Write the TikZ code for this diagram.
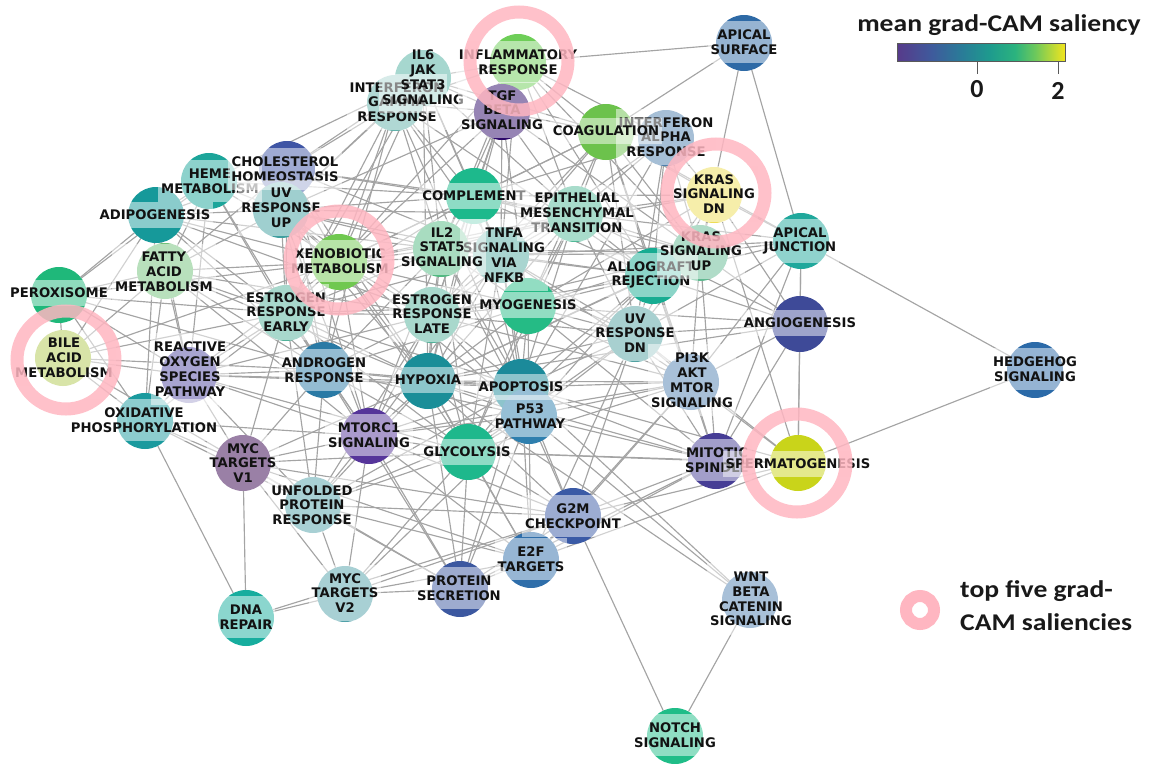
\documentclass[tikz,border=0pt]{standalone}
\usepackage{fontspec}
\usepackage{graphicx}
\newfontfamily\labfont{DejaVu Sans}
\newfontfamily\legfont{Carlito}
\pgfdeclarelayer{edges}
\pgfsetlayers{edges,main}
\definecolor{edgegray}{HTML}{A4A4A4}
\definecolor{ringpink}{HTML}{FFB6C1}
\definecolor{c-inf}{HTML}{6ECE58}
\definecolor{c-apsurf}{HTML}{2E6AA6}
\definecolor{c-il6}{HTML}{4DB0A0}
\definecolor{c-ifng}{HTML}{61B1AA}
\definecolor{c-tgf}{HTML}{2D0A6A}
\definecolor{c-coag}{HTML}{6CC24C}
\definecolor{c-ifna}{HTML}{4D7FAD}
\definecolor{c-krasdn}{HTML}{EEDD55}
\definecolor{c-chol}{HTML}{3F55A5}
\definecolor{c-heme}{HTML}{1CA59A}
\definecolor{c-uvup}{HTML}{3F9F9F}
\definecolor{c-adipo}{HTML}{16999A}
\definecolor{c-compl}{HTML}{1DB98C}
\definecolor{c-emt}{HTML}{51B997}
\definecolor{c-apjunc}{HTML}{20A89C}
\definecolor{c-xeno}{HTML}{70C850}
\definecolor{c-il2}{HTML}{51B981}
\definecolor{c-tnfa}{HTML}{53ABA1}
\definecolor{c-krasup}{HTML}{61B991}
\definecolor{c-allo}{HTML}{17AC92}
\definecolor{c-fatty}{HTML}{71C179}
\definecolor{c-perox}{HTML}{1FB87A}
\definecolor{c-estre}{HTML}{51B199}
\definecolor{c-estrl}{HTML}{51B199}
\definecolor{c-myo}{HTML}{25BB85}
\definecolor{c-uvdn}{HTML}{51A1A1}
\definecolor{c-angio}{HTML}{3E4A98}
\definecolor{c-bile}{HTML}{B1C951}
\definecolor{c-ros}{HTML}{5149A1}
\definecolor{c-andr}{HTML}{2A7AA5}
\definecolor{c-hyp}{HTML}{1A8E98}
\definecolor{c-apop}{HTML}{1B8A9A}
\definecolor{c-p53}{HTML}{2E7FAE}
\definecolor{c-pi3k}{HTML}{5181B1}
\definecolor{c-hedge}{HTML}{2B6AA8}
\definecolor{c-oxphos}{HTML}{1A9A9E}
\definecolor{c-mtorc1}{HTML}{56359A}
\definecolor{c-mycv1}{HTML}{35014D}
\definecolor{c-glyc}{HTML}{1EB88C}
\definecolor{c-mitotic}{HTML}{463D95}
\definecolor{c-sperm}{HTML}{C9D41A}
\definecolor{c-upr}{HTML}{51A1A9}
\definecolor{c-g2m}{HTML}{3A5AA6}
\definecolor{c-e2f}{HTML}{2F6EAA}
\definecolor{c-protsec}{HTML}{3C58A0}
\definecolor{c-mycv2}{HTML}{51A1A9}
\definecolor{c-dna}{HTML}{17AD9E}
\definecolor{c-wnt}{HTML}{5181B1}
\definecolor{c-notch}{HTML}{20BD88}
\definecolor{vA}{HTML}{573A8A}
\definecolor{vB}{HTML}{3F5A9C}
\definecolor{vC}{HTML}{2A7B98}
\definecolor{vD}{HTML}{1E9A8E}
\definecolor{vE}{HTML}{2BB37E}
\definecolor{vF}{HTML}{6CC85C}
\definecolor{vG}{HTML}{F2E51E}
\tikzset{
  hall/.style={circle, minimum size=56pt, inner sep=0pt, outer sep=0pt, draw=none},
  lab/.style={fill=white, fill opacity=0.5, text opacity=1, text=black!93, align=center,
    inner xsep=3pt, inner ysep=8.5pt, font=\labfont\bfseries\fontsize{13.2}{14.8}\selectfont},
  edgeline/.style={draw=edgegray, line width=1.15pt},
  topring/.style={circle, draw=ringpink, draw opacity=0.85, line width=13pt, minimum size=98pt, inner sep=0pt},
  legtxt/.style={font=\legfont\bfseries\fontsize{24}{28}\selectfont, text=black!90, inner sep=0pt},
}
\begin{document}
\begin{tikzpicture}[x=1pt,y=-1pt]
\useasboundingbox (0,0) rectangle (1151,763);
% circles
\foreach \k/\x/\y in {inf/518/62, apsurf/744/43, il6/423/78, ifng/395/103, tgf/502/112,
  coag/606/132, ifna/666/138, krasdn/714/195, chol/287/169, heme/209/181, uvup/281/210,
  adipo/156/215, compl/474/196, emt/575/214, apjunc/801/241, xeno/339/262, il2/441/249,
  tnfa/501/255, krasup/700/253, allo/653/276, fatty/165/271, perox/59/295, estre/286/313,
  estrl/432/315, myo/528/306, uvdn/635/334, angio/800/324, bile/63/358, ros/189/375,
  andr/324/370, hyp/428/381, apop/521/387, p53/529/416, pi3k/691/382, hedge/1035/370,
  oxphos/145/421, mtorc1/369/436, mycv1/243/463, glyc/468/452, mitotic/716/461,
  sperm/798/463, upr/313/505, g2m/573/516, e2f/531/560, protsec/460/589, mycv2/345/594,
  dna/246/618, wnt/750/600, notch/675/736}
  \node[hall, fill=c-\k] (\k) at (\x,\y) {};
% edges
\begin{pgfonlayer}{edges}
\foreach \a/\b in {inf/apsurf, inf/il6, inf/ifng, inf/tgf, inf/coag, inf/compl, inf/tnfa, inf/il2, inf/allo, inf/krasup, inf/ifna, inf/emt, inf/xeno,
  apsurf/coag, apsurf/krasup, apsurf/apjunc,
  il6/ifng, il6/tgf, il6/compl, il6/tnfa, il6/il2, il6/xeno, il6/chol, il6/uvup, il6/estre, il6/hyp, il6/emt, il6/coag, il6/heme,
  ifng/tgf, ifng/compl, ifng/tnfa, ifng/il2, ifng/allo, ifng/xeno, ifng/chol, ifng/uvup, ifng/estre, ifng/andr, ifng/apop,
  tgf/coag, tgf/emt, tgf/compl, tgf/tnfa, tgf/hyp, tgf/uvup, tgf/xeno, tgf/estrl, tgf/myo, tgf/krasup, tgf/il2,
  coag/ifna, coag/emt, coag/compl, coag/krasup, coag/krasdn, coag/allo, coag/tnfa, coag/myo, coag/uvdn, coag/apjunc, coag/xeno, coag/estrl, coag/pi3k,
  ifna/krasdn, ifna/allo, ifna/krasup, ifna/emt, ifna/tnfa, ifna/apop, ifna/uvdn, ifna/compl,
  krasdn/krasup, krasdn/apjunc, krasdn/emt, krasdn/myo, krasdn/allo, krasdn/uvdn, krasdn/angio, krasdn/sperm, krasdn/xeno, krasdn/compl,
  chol/heme, chol/uvup, chol/adipo, chol/xeno, chol/fatty, chol/compl, chol/estre, chol/tnfa, chol/andr, chol/mtorc1, chol/emt, chol/hyp,
  heme/uvup, heme/adipo, heme/fatty, heme/xeno, heme/compl, heme/perox, heme/estre, heme/andr, heme/ros,
  uvup/adipo, uvup/xeno, uvup/compl, uvup/emt, uvup/fatty, uvup/estre, uvup/tnfa, uvup/il2, uvup/andr, uvup/hyp, uvup/mtorc1, uvup/estrl, uvup/p53,
  adipo/fatty, adipo/perox, adipo/xeno, adipo/bile, adipo/estre, adipo/ros, adipo/oxphos, adipo/andr, adipo/il2, adipo/estrl,
  compl/emt, compl/xeno, compl/il2, compl/tnfa, compl/allo, compl/krasup, compl/myo, compl/estrl, compl/hyp, compl/apop, compl/estre,
  emt/tnfa, emt/il2, emt/allo, emt/krasup, emt/myo, emt/apjunc, emt/uvdn, emt/estrl, emt/hyp, emt/apop, emt/glyc, emt/xeno, emt/angio,
  apjunc/krasup, apjunc/allo, apjunc/angio, apjunc/hedge, apjunc/sperm, apjunc/pi3k, apjunc/uvdn, apjunc/mitotic, apjunc/tnfa,
  xeno/fatty, xeno/perox, xeno/bile, xeno/estre, xeno/estrl, xeno/il2, xeno/tnfa, xeno/andr, xeno/hyp, xeno/ros, xeno/myo, xeno/mtorc1, xeno/glyc,
  il2/tnfa, il2/estrl, il2/myo, il2/allo, il2/krasup, il2/hyp, il2/apop, il2/estre, il2/andr, il2/uvdn, il2/p53, il2/glyc, il2/mtorc1,
  tnfa/estrl, tnfa/myo, tnfa/allo, tnfa/krasup, tnfa/hyp, tnfa/apop, tnfa/p53, tnfa/uvdn, tnfa/estre, tnfa/glyc, tnfa/pi3k, tnfa/mtorc1,
  krasup/allo, krasup/myo, krasup/uvdn, krasup/angio, krasup/estrl, krasup/hyp, krasup/pi3k, krasup/mitotic,
  allo/myo, allo/uvdn, allo/angio, allo/pi3k, allo/estrl, allo/hyp, allo/apop, allo/p53, allo/glyc, allo/mitotic,
  fatty/perox, fatty/bile, fatty/estre, fatty/ros, fatty/oxphos, fatty/andr, fatty/estrl, fatty/hyp, fatty/mtorc1,
  perox/bile, perox/estre, perox/ros, perox/oxphos, perox/andr,
  estre/estrl, estre/andr, estre/ros, estre/hyp, estre/myo, estre/apop, estre/mtorc1, estre/glyc, estre/bile, estre/oxphos, estre/mycv1, estre/upr,
  estrl/myo, estrl/andr, estrl/hyp, estrl/apop, estrl/p53, estrl/glyc, estrl/mtorc1, estrl/uvdn, estrl/ros, estrl/pi3k, estrl/upr,
  myo/uvdn, myo/hyp, myo/apop, myo/p53, myo/glyc, myo/pi3k, myo/angio, myo/andr, myo/mitotic,
  uvdn/pi3k, uvdn/angio, uvdn/apop, uvdn/p53, uvdn/hyp, uvdn/glyc, uvdn/mitotic, uvdn/sperm, uvdn/g2m, uvdn/e2f,
  angio/pi3k, angio/mitotic, angio/sperm, angio/hyp,
  bile/ros, bile/oxphos, bile/andr, bile/mycv1,
  ros/oxphos, ros/andr, ros/hyp, ros/mtorc1, ros/mycv1, ros/upr, ros/apop, ros/glyc,
  andr/hyp, andr/apop, andr/p53, andr/mtorc1, andr/glyc, andr/mycv1, andr/upr, andr/protsec,
  hyp/apop, hyp/p53, hyp/glyc, hyp/mtorc1, hyp/pi3k, hyp/mitotic, hyp/upr, hyp/g2m, hyp/e2f, hyp/mycv1, hyp/protsec, hyp/wnt,
  apop/p53, apop/glyc, apop/mtorc1, apop/pi3k, apop/mitotic, apop/g2m, apop/e2f, apop/upr, apop/wnt, apop/sperm, apop/protsec,
  p53/glyc, p53/mtorc1, p53/pi3k, p53/mitotic, p53/g2m, p53/e2f, p53/upr, p53/protsec, p53/wnt, p53/mycv2,
  pi3k/mitotic, pi3k/sperm, pi3k/g2m, pi3k/glyc, pi3k/mtorc1, pi3k/e2f,
  oxphos/mycv1, oxphos/dna, oxphos/mtorc1, oxphos/upr,
  mtorc1/mycv1, mtorc1/glyc, mtorc1/upr, mtorc1/mycv2, mtorc1/g2m, mtorc1/e2f, mtorc1/protsec,
  mycv1/upr, mycv1/dna, mycv1/mycv2, mycv1/e2f, mycv1/g2m, mycv1/glyc, mycv1/protsec,
  glyc/upr, glyc/g2m, glyc/e2f, glyc/protsec, glyc/mycv2, glyc/mitotic, glyc/sperm,
  mitotic/sperm, mitotic/g2m, mitotic/e2f, mitotic/protsec,
  sperm/hedge, sperm/g2m, sperm/e2f,
  upr/mycv2, upr/e2f, upr/protsec, upr/g2m,
  g2m/e2f, g2m/protsec, g2m/notch, g2m/mycv2, g2m/dna,
  e2f/protsec, e2f/mycv2, protsec/mycv2, wnt/notch, mycv2/dna}
  \draw[edgeline] (\a) -- (\b);
\end{pgfonlayer}
% labels
\node[lab] (ifng-l) at (397,102) {INTERFERON\\GAMMA\\RESPONSE};
\node[lab] (il6-l) at (423,77) {IL6\\JAK\\STAT3\\SIGNALING};
\node[lab] (tgf-l) at (502,110) {TGF\\BETA\\SIGNALING};
\node[lab] (inf-l) at (518,62) {INFLAMMATORY\\RESPONSE};
\node[lab] (apsurf-l) at (744,42) {APICAL\\SURFACE};
\node[lab] (ifna-l) at (666,137) {INTERFERON\\ALPHA\\RESPONSE};
\node[lab] (coag-l) at (606,131) {COAGULATION};
\node[lab] (krasdn-l) at (714,194) {KRAS\\SIGNALING\\DN};
\node[lab] (heme-l) at (210,181) {HEME\\METABOLISM};
\node[lab] (chol-l) at (285,169) {CHOLESTEROL\\HOMEOSTASIS};
\node[lab] (uvup-l) at (281,208) {UV\\RESPONSE\\UP};
\node[lab] (adipo-l) at (155,215) {ADIPOGENESIS};
\node[lab] (compl-l) at (474,196) {COMPLEMENT};
\node[lab] (emt-l) at (577,213) {EPITHELIAL\\MESENCHYMAL\\TRANSITION};
\node[lab] (apjunc-l) at (800,241) {APICAL\\JUNCTION};
\node[lab] (xeno-l) at (340,261) {XENOBIOTIC\\METABOLISM};
\node[lab] (tnfa-l) at (504,255) {TNFA\\SIGNALING\\VIA\\NFKB};
\node[lab] (il2-l) at (442,247) {IL2\\STAT5\\SIGNALING};
\node[lab] (allo-l) at (651,275) {ALLOGRAFT\\REJECTION};
\node[lab] (krasup-l) at (701,251) {KRAS\\SIGNALING\\UP};
\node[lab] (fatty-l) at (164,272) {FATTY\\ACID\\METABOLISM};
\node[lab] (perox-l) at (59,293) {PEROXISOME};
\node[lab] (estre-l) at (286,312) {ESTROGEN\\RESPONSE\\EARLY};
\node[lab] (estrl-l) at (432,314) {ESTROGEN\\RESPONSE\\LATE};
\node[lab] (myo-l) at (528,305) {MYOGENESIS};
\node[lab] (uvdn-l) at (635,333) {UV\\RESPONSE\\DN};
\node[lab] (angio-l) at (800,323) {ANGIOGENESIS};
\node[lab] (bile-l) at (64,358) {BILE\\ACID\\METABOLISM};
\node[lab] (ros-l) at (190,369) {REACTIVE\\OXYGEN\\SPECIES\\PATHWAY};
\node[lab] (andr-l) at (324,370) {ANDROGEN\\RESPONSE};
\node[lab] (hyp-l) at (428,380) {HYPOXIA};
\node[lab] (apop-l) at (521,387) {APOPTOSIS};
\node[lab] (p53-l) at (530,416) {P53\\PATHWAY};
\node[lab] (pi3k-l) at (692,380) {PI3K\\AKT\\MTOR\\SIGNALING};
\node[lab] (hedge-l) at (1035,369) {HEDGEHOG\\SIGNALING};
\node[lab] (oxphos-l) at (144,420) {OXIDATIVE\\PHOSPHORYLATION};
\node[lab] (mtorc1-l) at (369,435) {MTORC1\\SIGNALING};
\node[lab] (mycv1-l) at (243,463) {MYC\\TARGETS\\V1};
\node[lab] (glyc-l) at (467,452) {GLYCOLYSIS};
\node[lab] (mitotic-l) at (717,460) {MITOTIC\\SPINDLE};
\node[lab] (sperm-l) at (798,464) {SPERMATOGENESIS};
\node[lab] (upr-l) at (312,505) {UNFOLDED\\PROTEIN\\RESPONSE};
\node[lab] (g2m-l) at (573,516) {G2M\\CHECKPOINT};
\node[lab] (e2f-l) at (531,559) {E2F\\TARGETS};
\node[lab] (protsec-l) at (459,588) {PROTEIN\\SECRETION};
\node[lab] (mycv2-l) at (345,593) {MYC\\TARGETS\\V2};
\node[lab] (dna-l) at (246,617) {DNA\\REPAIR};
\node[lab] (wnt-l) at (751,599) {WNT\\BETA\\CATENIN\\SIGNALING};
\node[lab] (notch-l) at (675,735) {NOTCH\\SIGNALING};
% highlight rings
\node[topring] (inf-r) at (519,61) {};
\node[topring] (krasdn-r) at (716,193) {};
\node[topring] (xeno-r) at (339,260) {};
\node[topring] (bile-r) at (66,360) {};
\node[topring] (sperm-r) at (797,463) {};
% colour bar legend
\node[legtxt, anchor=base] (cbtitle) at (999,31) {\scalebox{1.15}[1]{mean grad-CAM saliency}};
\shade[left color=vA, right color=vB] (897,43) rectangle (931,61);
\shade[left color=vB, right color=vC] (931,43) rectangle (961,61);
\shade[left color=vC, right color=vD] (961,43) rectangle (989,61);
\shade[left color=vD, right color=vE] (989,43) rectangle (1015,61);
\shade[left color=vE, right color=vF] (1015,43) rectangle (1035,61);
\shade[left color=vF, right color=vG] (1035,43) rectangle (1065,61);
\node[draw=black!65, line width=0.9pt, minimum width=168pt, minimum height=18pt, inner sep=0pt] (cbar) at (981,52) {};
\node[legtxt, font=\legfont\bfseries\fontsize{26}{28}\selectfont] (t0) at (977,89) {0};
\node[legtxt, font=\legfont\bfseries\fontsize{26}{28}\selectfont] (t2) at (1058,91) {2};
\draw[black!65, line width=1pt] (cbar.south -| t0) -- ++(0,13);
\draw[black!65, line width=1pt] (cbar.south -| t2) -- ++(0,13);
% ring legend
\node[circle, draw=ringpink, line width=12pt, minimum size=28pt, inner sep=0pt] (ringkey) at (920,610) {};
\node[legtxt, anchor=base west] (key1) at (960,597) {\scalebox{1.15}[1]{top five grad-}};
\node[legtxt, anchor=base west] (key2) at (960,630) {\scalebox{1.15}[1]{CAM saliencies}};
\end{tikzpicture}
\end{document}
